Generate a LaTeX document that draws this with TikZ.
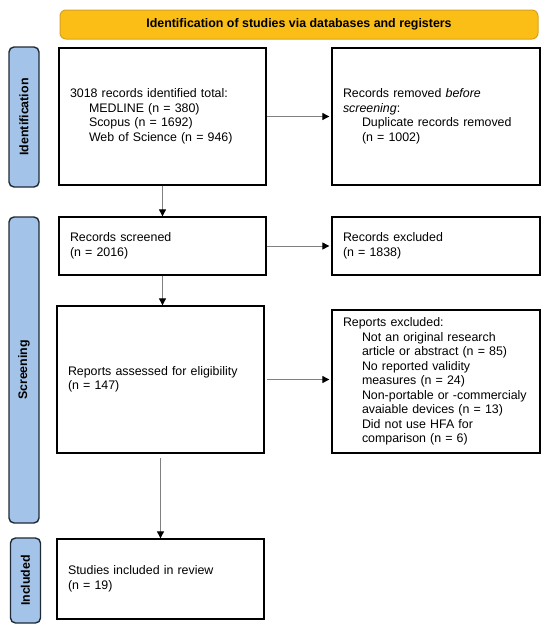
\documentclass[tikz,border=0pt]{standalone}
\usepackage{fontspec}
\setmainfont{Liberation Sans}
\usetikzlibrary{arrows.meta}
\definecolor{hdrfill}{HTML}{FABE16}
\definecolor{hdrline}{HTML}{D8A21E}
\definecolor{barfill}{HTML}{A3C4E8}
\definecolor{barline}{HTML}{1F2A36}
\definecolor{arrline}{HTML}{808080}
\newcommand{\ind}{\hspace*{19pt}}
\begin{document}
\begin{tikzpicture}[x=1pt,y=-1pt,
  every node/.style={font=\fontsize{12.4}{14.5}\selectfont},
  box/.style={draw=black, line width=1.3pt, fill=white, align=left, inner xsep=11pt, inner ysep=2pt},
  bar/.style={draw=barline, fill=barfill, line width=1.4pt, rounded corners=5pt, rotate=90,
    minimum height=30pt, inner sep=0pt, font=\fontsize{12.4}{14}\selectfont\bfseries},
  hdr/.style={draw=hdrline, fill=hdrfill, line width=1pt, rounded corners=6pt,
    minimum width=478pt, minimum height=29pt, inner sep=0pt, font=\fontsize{12.4}{14}\selectfont\bfseries},
  arr/.style={draw=arrline, line width=0.9pt, -{Triangle[length=7pt,width=7pt,color=black]}},
]
\useasboundingbox (0,0) rectangle (550,632);

% header
\node[hdr] (hdr) at (299,24.5) {Identification of studies via databases and registers};

% side bars
\node[bar, minimum width=140pt] (sidA) at (24,117) {Identification};
\node[bar, minimum width=306pt] (sidB) at (24,370) {Screening};
\node[bar, minimum width=85pt] (sidC) at (25.5,580.5) {Included};

% boxes
\node[box, text width=185pt, minimum height=137pt] (b1) at (162.5,116.5)
  {3018 records identified total:\\
   \ind MEDLINE (n = 380)\\
   \ind Scopus (n = 1692)\\
   \ind Web of Science (n = 946)};
\node[box, text width=186pt, minimum height=137pt] (b2) at (436,116.5)
  {Records removed \textit{before}\\
   \textit{screening}:\\
   \ind Duplicate records removed\\
   \ind (n = 1002)\\[11pt]};
\node[box, text width=185pt, minimum height=58pt] (scr) at (162.5,246)
  {Records screened\\(n = 2016)};
\node[box, text width=186pt, minimum height=58pt] (exc) at (436,246)
  {Records excluded\\(n = 1838)};
\node[box, text width=185pt, minimum height=147pt] (ass) at (160.5,379.5)
  {Reports assessed for eligibility\\(n = 147)};
\node[box, text width=186pt, minimum height=143pt] (rep) at (436,381.5)
  {Reports excluded:\\
   \ind Not an original research\\
   \ind article or abstract (n = 85)\\
   \ind No reported validity\\
   \ind measures (n = 24)\\
   \ind Non-portable or -commercialy\\
   \ind avaiable devices (n = 13)\\
   \ind Did not use HFA for\\
   \ind comparison (n = 6)};
\node[box, text width=185pt, minimum height=80pt] (inc) at (160.5,579)
  {Studies included in review\\(n = 19)};

% connectors
\draw[arr, shorten >=2pt] (b1.east) -- (b2.west);
\draw[arr] (b1.south) -- (scr.north);
\draw[arr, shorten >=2pt] (scr.east) -- (exc.west);
\draw[arr] (scr.south) -- (scr.south |- ass.north);
\draw[arr, shorten <=2pt, shorten >=2pt] (ass.east) -- (ass.east -| rep.west);
\draw[arr, shorten <=4pt] (ass.south) -- (inc.north);
\end{tikzpicture}
\end{document}
